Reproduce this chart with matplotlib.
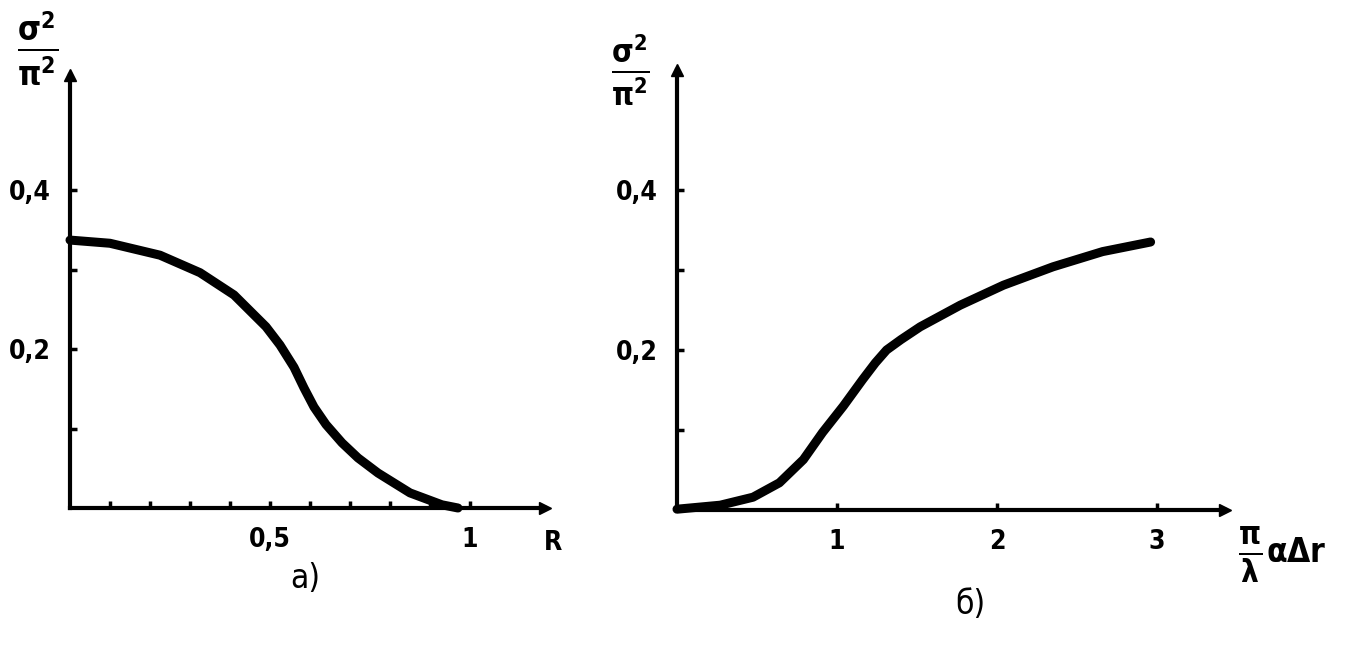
import matplotlib.pyplot as plt

plt.rcParams['font.family'] = ['DejaVu Sans']
plt.rcParams['font.stretch'] = 'condensed'
plt.rcParams['mathtext.fontset'] = 'dejavusans'

# panel a)
r_vals = [0.0, 0.10, 0.225, 0.325, 0.41, 0.49, 0.525, 0.56, 0.585, 0.61, 0.64, 0.68, 0.72, 0.77, 0.85, 0.93, 0.97]
sig_a = [0.337, 0.333, 0.318, 0.296, 0.268, 0.228, 0.205, 0.177, 0.151, 0.127, 0.105, 0.082, 0.063, 0.044, 0.019, 0.004, 0.0]
a_xlabels = ['0,5', '1']
a_ylabels = ['0,2', '0,4']

# panel б)
q_vals = [0.0, 0.27, 0.475, 0.64, 0.79, 0.91, 1.04, 1.16, 1.24, 1.31, 1.40, 1.52, 1.77, 2.04, 2.35, 2.66, 2.96]
sig_b = [0.001, 0.006, 0.016, 0.034, 0.063, 0.097, 0.13, 0.163, 0.184, 0.20, 0.213, 0.229, 0.256, 0.281, 0.304, 0.323, 0.335]
b_xticks = [1, 2, 3]
b_xlabels = ['1', '2', '3']
b_ylabels = ['0,2', '0,4']

W, H = 1364, 648
fig = plt.figure(figsize=(W / 100, H / 100), dpi=100)

def make_ax(x0, y0, x1, y1):
    # pixel box -> figure fraction
    return fig.add_axes([x0 / W, 1 - y1 / H, (x1 - x0) / W, (y1 - y0) / H])

def style(ax):
    for s in ['top', 'right']:
        ax.spines[s].set_visible(False)
    for s in ['left', 'bottom']:
        ax.spines[s].set_linewidth(3)
    ax.plot(1, 0, '>k', ms=9, transform=ax.transAxes, clip_on=False)
    ax.plot(0, 1, '^k', ms=9, transform=ax.transAxes, clip_on=False)
    ax.tick_params(direction='in', length=5, width=2.5, labelsize=19, pad=14)
    ax.patch.set_alpha(0)

lab = dict(fontsize=19, fontweight='bold', fontstretch='condensed')

# left panel: x 0 at px 70, 400 px/unit; y 0 at px 508, 795 px/unit
ax1 = make_ax(70, 75, 545, 508)
ax1.set_xlim(0, 475 / 400)
ax1.set_ylim(0, 433 / 795)
ax1.plot(r_vals, sig_a, color='black', lw=6.5, solid_capstyle='round',
         solid_joinstyle='round', clip_on=False)
style(ax1)
ax1.set_xticks([0.1, 0.2, 0.3, 0.4, 0.5, 0.6, 0.7, 0.8, 0.9, 1.0])
ax1.set_xticklabels(['', '', '', '', a_xlabels[0], '', '', '', '', a_xlabels[1]], **lab)
ax1.set_yticks([0.1, 0.2, 0.3, 0.4])
ax1.set_yticklabels(['', a_ylabels[0], '', a_ylabels[1]], **lab)
fig.text(553 / W, 1 - 543 / H, 'R', ha='center', va='center', **lab)
fig.text(38 / W, 1 - 48 / H, r'$\mathbf{\frac{\sigma^2}{\pi^2}}$', ha='center', va='center', fontsize=34)
fig.text(305 / W, 1 - 578 / H, 'а)', ha='center', va='center', fontsize=24)

# right panel: x 0 at px 677, 160 px/unit; y 0 at px 510, 800 px/unit
ax2 = make_ax(677, 70, 1225, 510)
ax2.set_xlim(0, 548 / 160)
ax2.set_ylim(0, 440 / 800)
ax2.plot(q_vals, sig_b, color='black', lw=6.5, solid_capstyle='round',
         solid_joinstyle='round', clip_on=False)
style(ax2)
ax2.set_xticks(b_xticks)
ax2.set_xticklabels(b_xlabels, **lab)
ax2.set_yticks([0.1, 0.2, 0.3, 0.4])
ax2.set_yticklabels(['', b_ylabels[0], '', b_ylabels[1]], **lab)
fig.text(1250 / W, 1 - 555 / H, r'$\mathbf{\frac{\pi}{\lambda}}$', ha='center', va='center', fontsize=32)
fig.text(1266 / W, 1 - 552 / H, r'$\mathbf{\alpha\Delta r}$', ha='left', va='center', fontsize=24)
fig.text(630 / W, 1 - 70 / H, r'$\mathbf{\frac{\sigma^2}{\pi^2}}$', ha='center', va='center', fontsize=32)
fig.text(970 / W, 1 - 605 / H, 'б)', ha='center', va='center', fontsize=24)

fig.savefig('out.png', dpi=100)
